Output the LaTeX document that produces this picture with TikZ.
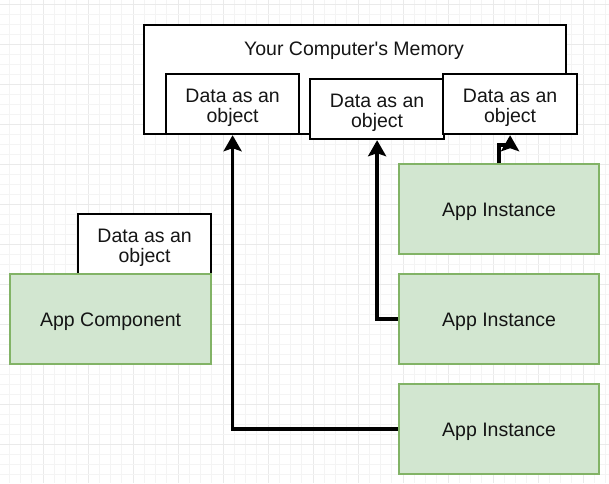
\documentclass[tikz,border=0pt]{standalone}
\usepackage{fontspec}
\setmainfont{Liberation Sans}
\newfontfamily\plainfont{Liberation Sans}
\usetikzlibrary{arrows.meta}
\definecolor{gridminor}{HTML}{F4F4F4}
\definecolor{gridmajor}{HTML}{EAEAEA}
\definecolor{greenfill}{HTML}{D2E6D0}
\definecolor{greenline}{HTML}{82B366}
\definecolor{txt}{HTML}{151515}
\newcommand\tallstrut{\rule{0pt}{20.5pt}}
\newcommand\onestrut{\rule{0pt}{19pt}}
\tikzset{
  base/.style={rectangle, inner sep=0pt, anchor=north west, align=center,
    font=\fontsize{19.5}{20}\selectfont, text=txt},
  whitebox/.style={base, draw=black, fill=white, line width=2.2pt},
  greenbox/.style={base, draw=greenline, fill=greenfill, line width=2.2pt},
  arr/.style={draw=black, line width=3.4pt, -{Stealth[length=16pt,width=18pt,inset=3pt]}}
}
\begin{document}
\begin{tikzpicture}[x=1pt,y=-1pt]
\useasboundingbox (0,0) rectangle (609,483);
\fill[white] (0,0) rectangle (609,483);
% grid
\foreach \k in {-3,...,50} {
  \pgfmathsetmacro{\xx}{43+11.25*\k}
  \pgfmathtruncatemacro{\m}{mod(\k+40,4)}
  \ifnum\m=0
    \draw[gridmajor, line width=0.8pt] (\xx,0) -- (\xx,483);
  \else
    \draw[gridminor, line width=0.8pt] (\xx,0) -- (\xx,483);
  \fi
}
\foreach \k in {0,...,48} {
  \pgfmathsetmacro{\yy}{4+10*\k}
  \pgfmathtruncatemacro{\m}{mod(\k,4)}
  \ifnum\m=0
    \draw[gridmajor, line width=0.8pt] (0,\yy) -- (609,\yy);
  \else
    \draw[gridminor, line width=0.8pt] (0,\yy) -- (609,\yy);
  \fi
}
% memory
\node[whitebox, minimum width=422pt, minimum height=109pt] (mem) at (143,24) {};
\node[base, anchor=center, font=\plainfont\fontsize{19.5}{20}\selectfont] (memt) at (354,50.5) {Your Computer's Memory};
\node[whitebox, minimum width=133pt, minimum height=60pt] (d1) at (165,73) {\tallstrut Data as an\\object};
\node[whitebox, minimum width=134pt, minimum height=60pt] (d2) at (309,78) {\tallstrut Data as an\\object};
\node[whitebox, minimum width=134pt, minimum height=60pt] (d3) at (442,73) {\tallstrut Data as an\\object};
% component
\node[whitebox, minimum width=133pt, minimum height=60pt] (d4) at (77,213) {\tallstrut Data as an\\object};
\node[greenbox, minimum width=201pt, minimum height=90pt] (comp) at (9,273) {\onestrut App Component};
% instances
\node[greenbox, minimum width=200pt, minimum height=90pt] (i1) at (398,163) {\onestrut App Instance};
\node[greenbox, minimum width=200pt, minimum height=90pt] (i2) at (398,273) {\onestrut App Instance};
\node[greenbox, minimum width=200pt, minimum height=90pt] (i3) at (398,383) {\onestrut App Instance};
% connectors
\draw[arr] (i2.west) -| (d2.south);
\draw[arr] (i3.west) -| (d1.south);
\draw[arr] (i1.north) -- ++(0,-18) -| (d3.south);
\end{tikzpicture}
\end{document}
